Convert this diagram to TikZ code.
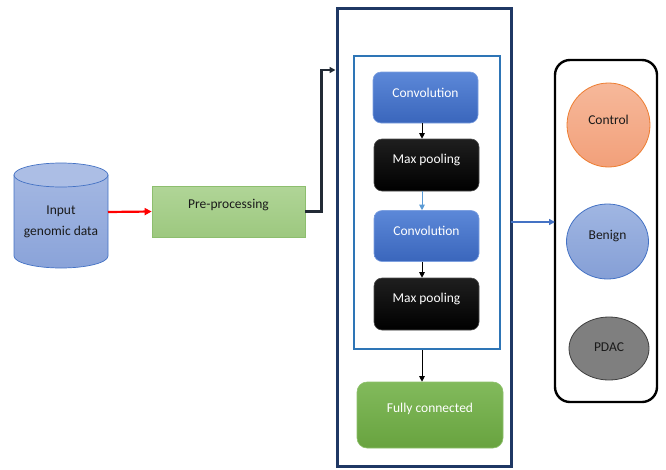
\documentclass[tikz,border=0pt]{standalone}
\usepackage{fontspec}
\setmainfont{Carlito}
\usetikzlibrary{arrows.meta,shapes.geometric}
\definecolor{navy}{HTML}{1F3864}
\definecolor{innerblue}{HTML}{2E75B6}
\definecolor{convtop}{HTML}{5C88D8}
\definecolor{convbot}{HTML}{3A66BC}
\definecolor{fctop}{HTML}{82BA5C}
\definecolor{fcbot}{HTML}{68A33F}
\definecolor{pretop}{HTML}{B0D597}
\definecolor{prebot}{HTML}{9DC87F}
\definecolor{preborder}{HTML}{8DBE6E}
\definecolor{cyltop}{HTML}{A3B7E2}
\definecolor{cylbot}{HTML}{8AA3D9}
\definecolor{cylborder}{HTML}{4472C4}
\definecolor{ctrltop}{HTML}{F6B89A}
\definecolor{ctrlbot}{HTML}{F2A07A}
\definecolor{ctrlborder}{HTML}{ED7D31}
\definecolor{bentop}{HTML}{A0B6E2}
\definecolor{benbot}{HTML}{859FD6}
\definecolor{pdac}{HTML}{7F7F7F}
\definecolor{conn}{HTML}{222A35}
\definecolor{lightblue}{HTML}{5B9BD5}
\definecolor{ink}{HTML}{1A1A1A}
\tikzset{
  txt/.style={font=\fontsize{13.5}{16}\selectfont},
  convbox/.style={rounded corners=8pt, top color=convtop, bottom color=convbot, draw=convtop!80!white, line width=0.6pt, minimum width=105pt, minimum height=51pt, inner sep=0pt,
    label={[txt, text=white, yshift=5pt, inner sep=0pt]center:#1}},
  poolbox/.style={rounded corners=8pt, top color=black!88, bottom color=black, draw=black!70, line width=0.6pt, minimum width=105pt, minimum height=52pt, inner sep=0pt,
    label={[txt, text=white, yshift=5pt, inner sep=0pt]center:#1}},
  classnode/.style={ellipse, inner sep=0pt, line width=0.8pt},
  arr/.style={-{Triangle[length=5.5pt,width=5.5pt]}, line width=0.9pt},
}
\begin{document}
\begin{tikzpicture}[x=1pt,y=-1pt]
\useasboundingbox (0,0) rectangle (666,469);
% cylinder
\path[top color=cyltop, bottom color=cylbot, draw=cylborder, line width=0.7pt]
  (14,175) -- (14,256) arc[start angle=180, end angle=0, x radius=47, y radius=12] -- (108,175) -- cycle;
\path[fill=cyltop!90!white, draw=cylborder, line width=0.7pt] (61,175) ellipse[x radius=47, y radius=12];
\node[font=\fontsize{13.5}{21}\selectfont, align=center, text=ink] (cyl) at (61,221.5) {Input\\genomic data};
\coordinate (cylout) at (108,212);
% pre-processing
\node[top color=pretop, bottom color=prebot, draw=preborder, line width=0.7pt, minimum width=153pt, minimum height=51pt, inner sep=0pt,
  label={[txt, text=ink, yshift=6pt, inner sep=0pt]center:Pre-processing}] (pre) at (228.5,211.5) {};
\draw[-{Triangle[length=7pt,width=7pt]}, red, line width=2.2pt] (cylout) -- (pre.west);
% outer box
\node[draw=navy, line width=3pt, minimum width=174pt, minimum height=458pt, inner sep=0pt] (outer) at (424,237) {};
\coordinate (in1) at (335.5,70);
\draw[-{Triangle[length=6pt,width=6pt]}, conn, line width=2.4pt] (pre.east) -- ++(16,0) |- (in1);
% inner box
\node[draw=innerblue, line width=2.2pt, minimum width=146pt, minimum height=293pt, inner sep=0pt] (inner) at (427,202.5) {};
\node[convbox=Convolution] (c1) at (425.5,97.5) {};
\node[poolbox=Max pooling] (p1) at (426.5,165) {};
\node[convbox=Convolution] (c2) at (426.5,236) {};
\node[poolbox=Max pooling] (p2) at (426.5,304) {};
\node[rounded corners=10pt, top color=fctop, bottom color=fcbot, draw=fctop!90!white, line width=0.6pt, minimum width=146pt, minimum height=66pt, inner sep=0pt,
  label={[txt, text=white, yshift=6pt, inner sep=0pt]center:Fully connected}] (fc) at (430,415) {};
\draw[arr] (c1.south -| 422,0) -- (p1.north -| 422,0);
\draw[arr, lightblue] (p1.south -| 422,0) -- (c2.north -| 422,0);
\draw[arr] (c2.south -| 422,0) -- (p2.north -| 422,0);
\draw[arr] (inner.south -| 422,0) -- (fc.north -| 422,0);
% right box
\node[draw=black, line width=2.4pt, rounded corners=15pt, minimum width=102pt, minimum height=342pt, inner sep=0pt] (right) at (606,231) {};
\coordinate (o1) at (511,222);
\coordinate (r1) at (555,222);
\draw[-{Triangle[length=6pt,width=6pt]}, cylborder, line width=1.4pt] (o1) -- (r1);
\node[classnode, top color=ctrltop, bottom color=ctrlbot, draw=ctrlborder, minimum width=83pt, minimum height=84pt,
  label={[txt, text=ink, yshift=5pt, inner sep=0pt]center:Control}] (ctrl) at (608.5,125) {};
\node[classnode, top color=bentop, bottom color=benbot, draw=cylborder, minimum width=82pt, minimum height=75pt,
  label={[txt, text=ink, yshift=5pt, inner sep=0pt]center:Benign}] (ben) at (607.5,241.5) {};
\node[classnode, fill=pdac, draw=black!75, minimum width=80pt, minimum height=63pt,
  label={[txt, text=ink, yshift=1pt, inner sep=0pt]center:PDAC}] (pd) at (609,348.5) {};
\end{tikzpicture}
\end{document}
